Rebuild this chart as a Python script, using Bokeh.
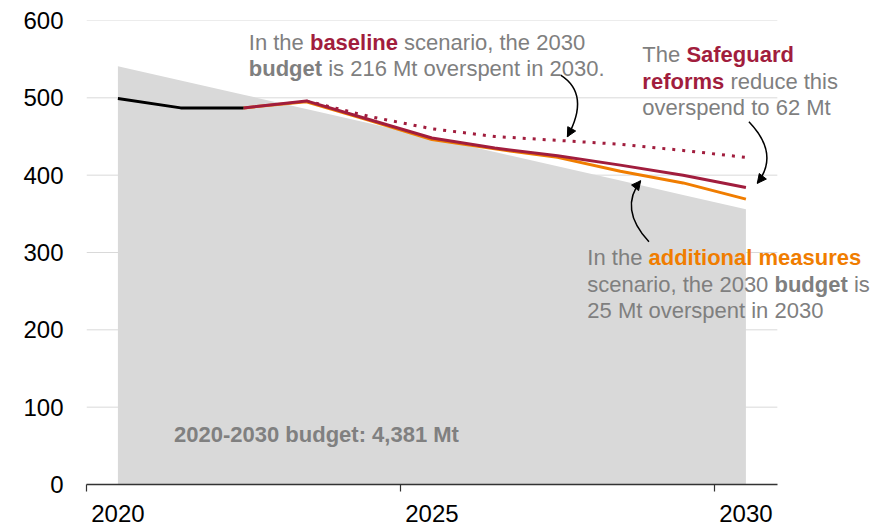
from bokeh.plotting import figure
from bokeh.models import Label, Arrow, NormalHead, FixedTicker
from bokeh.embed import file_html
from bokeh.resources import INLINE

# ---- data (Mt CO2-e), plotted at mid-year positions ----
history_years = [2020.5, 2021.5, 2022.5]
history = [499, 487, 487]

budget_years = [2020.5, 2021.5, 2022.5, 2023.5, 2024.5, 2025.5,
                2026.5, 2027.5, 2028.5, 2029.5, 2030.5]
budget = [541, 522.5, 504, 485.5, 467, 448.5, 430, 411.5, 393, 374.5, 356]

proj_years = [2022.5, 2023.5, 2024.5, 2025.5, 2026.5, 2027.5, 2028.5, 2029.5, 2030.5]
safeguard = [487, 496, 472, 448, 435, 425, 413, 400, 384]
additional = [487, 495, 471, 446, 434, 423, 405, 390, 369]

baseline_years = [2023.5, 2024.5, 2025.5, 2026.5, 2027.5, 2028.5, 2029.5, 2030.5]
baseline = [496, 476, 460, 450, 445, 440, 432, 423]

y_ticks = [0, 100, 200, 300, 400, 500, 600]
x_label_pos = [2020.5, 2025.5, 2030.5]
x_tick_labels = ["2020", "2025", "2030"]
x_boundaries = [2020, 2025, 2030]
x_axis_span = (2020, 2031)

FONT = "Liberation Sans"
GREY_TXT = "#7f7f7f"
RED = "#a11d3d"
ORANGE = "#f07d00"

# the plotting frame runs to the right edge so the notes have room;
# axis line and grid lines stop at the end of 2030
p = figure(width=893, height=526, x_range=(2020, 2032.85), y_range=(0, 600),
           output_backend="svg", toolbar_location=None,
           min_border_left=86, min_border_right=0,
           min_border_top=20, min_border_bottom=42)
p.outline_line_color = None
p.background_fill_color = "white"
p.border_fill_color = "white"

p.xgrid.grid_line_color = None
p.ygrid.grid_line_color = None

# horizontal guides
gx0 = [x_axis_span[0]] * (len(y_ticks) - 1)
gx1 = [x_axis_span[1]] * (len(y_ticks) - 1)
p.segment(x0=gx0, x1=gx1, y0=y_ticks[1:], y1=y_ticks[1:],
          line_color="#d9d9d9", line_width=1)

p.yaxis.ticker = FixedTicker(ticks=y_ticks)
p.yaxis.axis_line_color = None
p.yaxis.major_tick_line_color = None
p.yaxis.minor_tick_line_color = None
p.yaxis.major_tick_out = 0
p.yaxis.major_label_standoff = 23
p.yaxis.major_label_text_font = FONT
p.yaxis.major_label_text_font_size = "24px"
p.yaxis.major_label_text_color = "black"

p.xaxis.bounds = x_axis_span
p.xaxis.ticker = FixedTicker(ticks=x_label_pos, minor_ticks=x_boundaries)
p.xaxis.major_label_overrides = {pos: lab for pos, lab in zip(x_label_pos, x_tick_labels)}
p.xaxis.major_tick_line_color = None
p.xaxis.major_tick_out = 0
p.xaxis.major_tick_in = 0
p.xaxis.minor_tick_out = 7
p.xaxis.minor_tick_in = 0
p.xaxis.minor_tick_line_color = "#333333"
p.xaxis.minor_tick_line_width = 1.2
p.xaxis.axis_line_color = "#333333"
p.xaxis.axis_line_width = 1.5
p.xaxis.major_label_standoff = 13
p.xaxis.major_label_text_font = FONT
p.xaxis.major_label_text_font_size = "24px"
p.xaxis.major_label_text_color = "black"

# budget trajectory area
p.varea(x=budget_years, y1=0, y2=budget, fill_color="#d9d9d9")

# emission lines
p.line(baseline_years, baseline, line_color=RED, line_width=3, line_dash="3 7")
p.line(proj_years, additional, line_color=ORANGE, line_width=3)
p.line(proj_years, safeguard, line_color=RED, line_width=3)
p.line(history_years, history, line_color="black", line_width=3)

# ---- rich text annotations ----
REG = {' ': 278, ',': 278, '.': 278, '-': 333, ':': 278,
       'I': 278, 'M': 833, 'T': 611, 'S': 667,
       'a': 556, 'b': 556, 'c': 500, 'd': 556, 'e': 556, 'f': 278, 'g': 556,
       'h': 556, 'i': 222, 'j': 222, 'k': 500, 'l': 222, 'm': 833, 'n': 556,
       'o': 556, 'p': 556, 'q': 556, 'r': 333, 's': 500, 't': 278, 'u': 556,
       'v': 500, 'w': 722, 'x': 500, 'y': 500, 'z': 500}
BOLD = {' ': 278, ',': 278, '.': 278, '-': 333, ':': 333,
        'I': 278, 'M': 833, 'T': 611, 'S': 667,
        'a': 556, 'b': 611, 'c': 556, 'd': 611, 'e': 556, 'f': 333, 'g': 611,
        'h': 611, 'i': 278, 'j': 278, 'k': 556, 'l': 278, 'm': 889, 'n': 611,
        'o': 611, 'p': 611, 'q': 611, 'r': 389, 's': 556, 't': 333, 'u': 611,
        'v': 556, 'w': 778, 'x': 556, 'y': 556, 'z': 500}
for d in "0123456789":
    REG[d] = 556
    BOLD[d] = 556


def text_width(s, bold, size):
    table = BOLD if bold else REG
    return sum(table.get(c, 556) for c in s) / 1000.0 * size


def rich_line(x, y, parts, size=22):
    off = 0.0
    for txt, bold, color in parts:
        body = txt.strip(" ")
        lead = len(txt) - len(txt.lstrip(" "))
        trail = len(txt) - len(txt.rstrip(" "))
        off += text_width(" " * lead, bold, size)
        p.add_layout(Label(x=x, y=y, x_offset=off, text=body,
                           text_font=FONT, text_font_size=f"{size}px",
                           text_font_style="bold" if bold else "normal",
                           text_color=color, text_baseline="alphabetic",
                           text_align="left"))
        off += text_width(body, bold, size) + text_width(" " * trail, bold, size)


# baseline note
rich_line(2022.584, 571.8, [("In the ", False, GREY_TXT), ("baseline", True, RED),
                            (" scenario, the 2030", False, GREY_TXT)])
rich_line(2022.584, 538.2, [("budget", True, GREY_TXT),
                            (" is 216 Mt overspent in 2030.", False, GREY_TXT)])

# safeguard note
rich_line(2028.851, 555.4, [("The ", False, GREY_TXT), ("Safeguard", True, RED)])
rich_line(2028.851, 521.7, [("reforms", True, RED), (" reduce this", False, GREY_TXT)])
rich_line(2028.851, 487.7, [("overspend to 62 Mt", False, GREY_TXT)])

# additional measures note
rich_line(2027.975, 293.7, [("In the ", False, GREY_TXT),
                            ("additional measures", True, ORANGE)])
rich_line(2027.975, 258.7, [("scenario, the 2030 ", False, GREY_TXT),
                            ("budget", True, GREY_TXT), (" is", False, GREY_TXT)])
rich_line(2027.975, 224.6, [("25 Mt overspent in 2030", False, GREY_TXT)])

# budget total inside the area
p.add_layout(Label(x=2021.394, y=64.7, text="2020-2030 budget: 4,381 Mt",
                   text_font=FONT, text_font_size="22px", text_font_style="bold",
                   text_color="#808080", text_baseline="alphabetic"))

# curved pointer arrows: (start, control, tip)
arrows = [
    ((2027.550, 529.5), (2028.029, 504.7), (2027.657, 449.7)),
    ((2030.548, 469.1), (2031.044, 427.2), (2030.681, 389.4)),
    ((2028.956, 313.8), (2028.471, 356.4), (2028.824, 392.8)),
]
for (x0, y0), (cx, cy), (x1, y1) in arrows:
    p.quadratic(x0=[x0], y0=[y0], cx=[cx], cy=[cy], x1=[x1], y1=[y1],
                line_color="black", line_width=1.5)
    sx = x1 - 0.12 * (x1 - cx)
    sy = y1 - 0.12 * (y1 - cy)
    p.add_layout(Arrow(x_start=sx, y_start=sy, x_end=x1, y_end=y1,
                       line_color="black", line_width=1.5,
                       end=NormalHead(size=9, fill_color="black",
                                      line_color="black", line_width=1)))

open("out.html", "w").write(file_html(p, INLINE))
